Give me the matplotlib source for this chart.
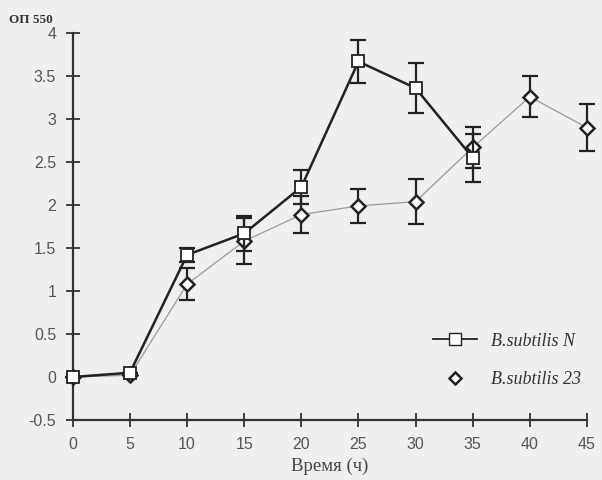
import matplotlib.pyplot as plt
import numpy as np

# time points (h)
hours = [0, 5, 10, 15, 20, 25, 30, 35, 40, 45]

# B.subtilis N (only up to 35 h)
hours_n = [0, 5, 10, 15, 20, 25, 30, 35]
od_n = [0.0, 0.05, 1.42, 1.67, 2.21, 3.67, 3.36, 2.55]
err_n = [0.0, 0.0, 0.08, 0.2, 0.2, 0.25, 0.29, 0.28]

# B.subtilis 23
od_23 = [0.0, 0.02, 1.08, 1.58, 1.89, 1.99, 2.04, 2.67, 3.26, 2.9]
err_23 = [0.0, 0.0, 0.19, 0.27, 0.21, 0.2, 0.26, 0.24, 0.24, 0.27]

xticks = [0, 5, 10, 15, 20, 25, 30, 35, 40, 45]
yticks = [-0.5, 0, 0.5, 1, 1.5, 2, 2.5, 3, 3.5, 4]

bg = "#efefef"
fig = plt.figure(figsize=(6.02, 4.8), dpi=100, facecolor=bg)
ax = fig.add_axes([0.121, 0.125, 0.854, 0.806], facecolor=bg)

eb = ax.errorbar(hours, od_23, yerr=err_23, fmt="-", color="#9a9a9a", lw=0.9,
                 ecolor="#222222", elinewidth=1.6, capsize=6, capthick=1.6, zorder=2)
for art in eb.lines[1] + eb.lines[2]:
    art.set_clip_on(False)
ax.plot(hours, od_23, "D", ms=7.5, mfc="white", mec="#222222", mew=1.8, zorder=3, clip_on=False)

eb = ax.errorbar(hours_n, od_n, yerr=err_n, fmt="-", color="#222222", lw=1.8,
                 ecolor="#222222", elinewidth=1.6, capsize=6, capthick=1.6, zorder=4)
ax.plot(hours_n, od_n, "s", ms=9, mfc="white", mec="#222222", mew=1.3, zorder=5, clip_on=False)

# legend handles
hN, = ax.plot([], [], "-s", color="#222222", lw=1.3, ms=9, mfc="white", mec="#222222")
h23, = ax.plot([], [], "D", ms=6, mfc="white", mec="#222222", mew=1.8, color="#bbbbbb")
leg = ax.legend([hN, h23], ["B.subtilis N", "B.subtilis 23"], loc="lower right",
                bbox_to_anchor=(1.02, 0.04), frameon=False, handlelength=2.4,
                labelspacing=1.2, prop={"family": "Liberation Serif", "style": "italic", "size": 13})
for t in leg.get_texts():
    t.set_color("#333333")

ax.set_xlim(0, 45)
ax.set_ylim(-0.5, 4)
ax.set_xticks(xticks)
ax.set_yticks(yticks)
ax.set_yticklabels([("%g" % v) for v in yticks])
ax.spines["top"].set_visible(False)
ax.spines["right"].set_visible(False)
for s in ["left", "bottom"]:
    ax.spines[s].set_linewidth(1.6)
    ax.spines[s].set_color("#333333")
ax.tick_params(direction="inout", length=10, width=1.3, colors="#333333",
               labelsize=11.5, pad=7)
for lab in ax.get_xticklabels() + ax.get_yticklabels():
    lab.set_family("Liberation Sans")
    lab.set_color("#555555")

ax.set_xlabel("Время (ч)", family="Liberation Serif", fontsize=13.5, color="#444444", labelpad=4)
fig.text(0.015, 0.952, "ОП 550", family="Liberation Serif", fontsize=9.5,
         fontweight="bold", color="#333333")

fig.savefig("out.png", dpi=100, facecolor=bg)
